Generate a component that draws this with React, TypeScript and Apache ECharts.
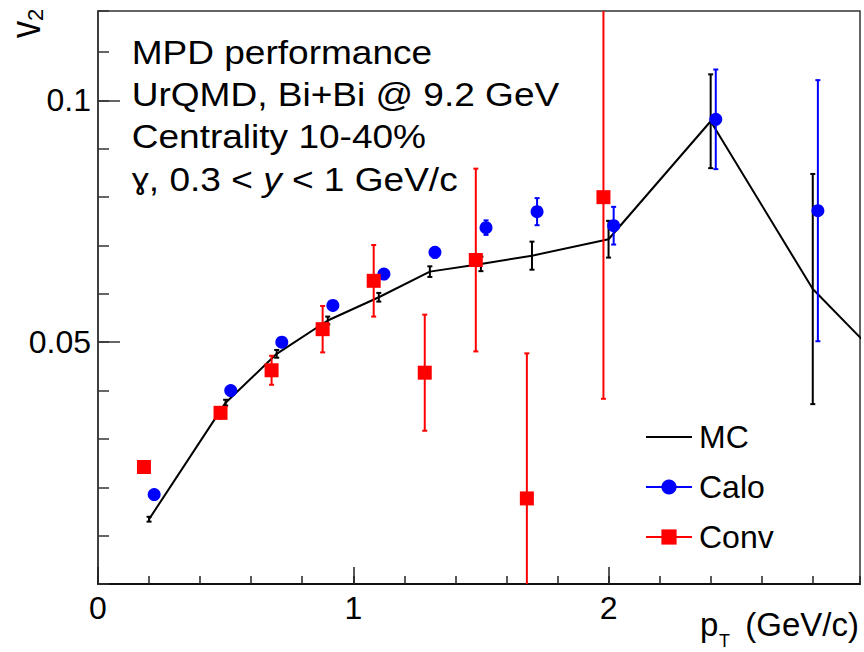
import React, { useEffect, useRef } from 'react';
import * as echarts from 'echarts';

// ---- data ----
const mcX = [0.2, 0.5, 0.7, 0.9, 1.1, 1.3, 1.5, 1.7, 2.0, 2.4, 2.8, 3.2];
const mcY = [0.0134, 0.0375, 0.0476, 0.0545, 0.0593, 0.0646, 0.0662, 0.0679, 0.0713, 0.0957, 0.061, 0.0394];
const mcErr = [0.0005, 0.0006, 0.0008, 0.0008, 0.0009, 0.0011, 0.0015, 0.0029, 0.0038, 0.0097, 0.0238, 0.03];

const caloX = [0.22, 0.52, 0.72, 0.92, 1.12, 1.32, 1.52, 1.72, 2.02, 2.42, 2.82];
const caloY = [0.0185, 0.04, 0.05, 0.0576, 0.0641, 0.0686, 0.0737, 0.077, 0.0741, 0.0961, 0.0772];
const caloErr = [0.0006, 0.0007, 0.0008, 0.0009, 0.001, 0.0011, 0.0015, 0.0028, 0.0039, 0.0103, 0.027];

const convX = [0.18, 0.48, 0.68, 0.88, 1.08, 1.28, 1.48, 1.68, 1.98];
const convY = [0.0242, 0.0354, 0.0442, 0.0527, 0.0627, 0.0437, 0.067, 0.0177, 0.08];
const convErr = [0.0008, 0.0012, 0.003, 0.0048, 0.0074, 0.012, 0.0189, 0.03, 0.0417];

const xTickLabels = [0, 1, 2];
const yTickLabels = [0.05, 0.1];
const infoLines = ['MPD performance', 'UrQMD, Bi+Bi @ 9.2 GeV', 'Centrality 10-40%'];

const FONT = '"Liberation Sans", Arial, Helvetica, sans-serif';
const FONT_G = '"Liberation Sans", "DejaVu Sans", Arial, sans-serif';
const BLUE = '#0000ff';
const RED = '#ff0000';
const BLACK = '#000000';

function zip3(xs: number[], ys: number[], es: number[]) {
  return xs.map((x, i) => [x, ys[i], es[i]]);
}

function errRender(color: string, cap: number) {
  return (params: any, api: any) => {
    const x = api.value(0);
    const y = api.value(1);
    const e = api.value(2);
    const top = api.coord([x, y + e]);
    const bot = api.coord([x, y - e]);
    const style = { stroke: color, lineWidth: 2 };
    return {
      type: 'group',
      children: [
        { type: 'line', shape: { x1: top[0], y1: top[1], x2: bot[0], y2: bot[1] }, style },
        { type: 'line', shape: { x1: top[0] - cap, y1: top[1], x2: top[0] + cap, y2: top[1] }, style },
        { type: 'line', shape: { x1: bot[0] - cap, y1: bot[1], x2: bot[0] + cap, y2: bot[1] }, style },
      ],
    };
  };
}

function fmtIn(list: number[]) {
  return (v: number) => {
    for (const t of list) if (Math.abs(v - t) < 1e-9) return String(t);
    return '';
  };
}

export default function App() {
  const ref = useRef<HTMLDivElement>(null);
  useEffect(() => {
    document.body.style.margin = '0';
    const chart = echarts.init(ref.current as HTMLDivElement, null, { renderer: 'svg' });
    const XMIN = 0, XMAX = 2.985, YMIN = 0, YMAX = 0.1185;
    const option: any = {
      animation: false,
      backgroundColor: '#ffffff',
      grid: {
        left: 98, top: 11, width: 762, height: 573,
        show: true, borderColor: '#333', borderWidth: 1.5, backgroundColor: 'transparent',
      },
      xAxis: [
        {
          type: 'value', min: XMIN, max: XMAX, interval: 1, position: 'bottom',
          axisLine: { show: true, onZero: false, lineStyle: { color: '#111', width: 2 } },
          axisTick: { show: true, inside: true, length: 17, lineStyle: { color: '#222', width: 1.5 } },
          axisLabel: {
            show: true, margin: 8, fontSize: 32, fontFamily: FONT, color: '#000',
            formatter: fmtIn(xTickLabels), showMaxLabel: false,
          },
          splitLine: { show: false },
        },
        {
          type: 'value', min: XMIN, max: XMAX, interval: 0.2, position: 'bottom', gridIndex: 0,
          axisLine: { show: false, onZero: false },
          axisTick: { show: true, inside: true, length: 8, lineStyle: { color: '#222', width: 1.5 } },
          axisLabel: { show: false },
          splitLine: { show: false },
        },
      ],
      yAxis: [
        {
          type: 'value', min: YMIN, max: YMAX, interval: 0.05, position: 'left',
          axisLine: { show: true, onZero: false, lineStyle: { color: '#333', width: 1.5 } },
          axisTick: { show: true, inside: true, length: 22, lineStyle: { color: '#333', width: 1.5 } },
          axisLabel: {
            show: true, margin: 7, fontSize: 32, fontFamily: FONT, color: '#000',
            formatter: fmtIn(yTickLabels), showMaxLabel: false, showMinLabel: false,
          },
          splitLine: { show: false },
        },
        {
          type: 'value', min: YMIN, max: YMAX, interval: 0.01, position: 'left', offset: 0,
          axisLine: { show: false, onZero: false },
          axisTick: { show: true, inside: true, length: 11, lineStyle: { color: '#333', width: 1.5 } },
          axisLabel: { show: false },
          splitLine: { show: false },
        },
      ],
      legend: {
        orient: 'vertical', left: 640, top: 416, itemGap: 18, itemWidth: 46, itemHeight: 19,
        selectedMode: false,
        textStyle: { fontSize: 32, fontFamily: FONT, color: '#000', padding: [0, 0, 0, 2] },
        data: [
          { name: 'MC', lineStyle: { opacity: 1, width: 2, color: BLACK }, itemStyle: { opacity: 0, color: 'rgba(0,0,0,0)', borderWidth: 0 } },
          { name: 'Calo', lineStyle: { opacity: 1, width: 2, color: BLUE } },
          { name: 'Conv', lineStyle: { opacity: 1, width: 2, color: RED } },
        ],
      },
      series: [
        {
          name: 'MC err', type: 'custom', clip: true, renderItem: errRender(BLACK, 2.5),
          data: zip3(mcX, mcY, mcErr), encode: { x: 0, y: 1 }, z: 2,
        },
        {
          name: 'MC', type: 'line', symbol: 'none', showSymbol: false, clip: true,
          data: mcX.map((x, i) => [x, mcY[i]]),
          lineStyle: { color: BLACK, width: 2 }, itemStyle: { color: BLACK }, z: 3,
        },
        {
          name: 'Calo err', type: 'custom', clip: true, renderItem: errRender(BLUE, 2.5),
          data: zip3(caloX, caloY, caloErr), encode: { x: 0, y: 1 }, z: 4,
        },
        {
          name: 'Calo', type: 'line', symbol: 'circle', symbolSize: 13, clip: true,
          data: caloX.map((x, i) => [x, caloY[i]]),
          lineStyle: { opacity: 0, width: 0, color: BLUE }, itemStyle: { color: BLUE }, z: 5,
        },
        {
          name: 'Conv err', type: 'custom', clip: true, renderItem: errRender(RED, 2.5),
          data: zip3(convX, convY, convErr), encode: { x: 0, y: 1 }, z: 6,
        },
        {
          name: 'Conv', type: 'line', symbol: 'rect', symbolSize: 14, clip: true,
          data: convX.map((x, i) => [x, convY[i]]),
          lineStyle: { opacity: 0, width: 0, color: RED }, itemStyle: { color: RED }, z: 7,
        },
      ],
      graphic: [
        ...infoLines.map((t, i) => ({
          type: 'text', x: 131.7, y: 52 + i * 42.3, scaleX: 1.14,
          style: { text: t, fontSize: 32.5, fontFamily: FONT, fill: '#000', align: 'left', verticalAlign: 'middle' },
        })),
        {
          type: 'text', x: 131.7, y: 52 + 3 * 42.3, scaleX: 1.14,
          style: {
            text: '{g|ɣ}{n|, 0.3 < }{i|y}{n| < 1 GeV/c}',
            fontSize: 32.5, fontFamily: FONT, fill: '#000', align: 'left', verticalAlign: 'middle',
            rich: {
              g: { fontSize: 30, fontFamily: FONT_G, fill: '#000' },
              n: { fontSize: 32.5, fontFamily: FONT, fill: '#000' },
              i: { fontSize: 32.5, fontFamily: FONT, fill: '#000', fontStyle: 'italic' },
            },
          },
        },
        {
          type: 'text', x: 859, y: 624.5,
          style: { text: '(GeV/c)', fontSize: 33, fontFamily: FONT, fill: '#000', align: 'right', verticalAlign: 'middle' },
        },
        {
          type: 'text', x: 700, y: 624.5,
          style: { text: 'p', fontSize: 33, fontFamily: FONT, fill: '#000', align: 'left', verticalAlign: 'middle' },
        },
        {
          type: 'text', x: 719, y: 641,
          style: { text: 'T', fontSize: 18, fontFamily: FONT, fill: '#000', align: 'left', verticalAlign: 'middle' },
        },
        {
          type: 'text', x: 25, y: 38, rotation: Math.PI / 2, scaleY: 1.25,
          style: { text: 'v', fontSize: 34, fontFamily: FONT, fill: '#000', align: 'left', verticalAlign: 'middle' },
        },
        {
          type: 'text', x: 35, y: 21, rotation: Math.PI / 2,
          style: { text: '2', fontSize: 22, fontFamily: FONT, fill: '#000', align: 'left', verticalAlign: 'middle' },
        },
      ],
    };
    chart.setOption(option);
    return () => chart.dispose();
  }, []);
  return <div ref={ref} style={{ width: 864, height: 652 }} />;
}
